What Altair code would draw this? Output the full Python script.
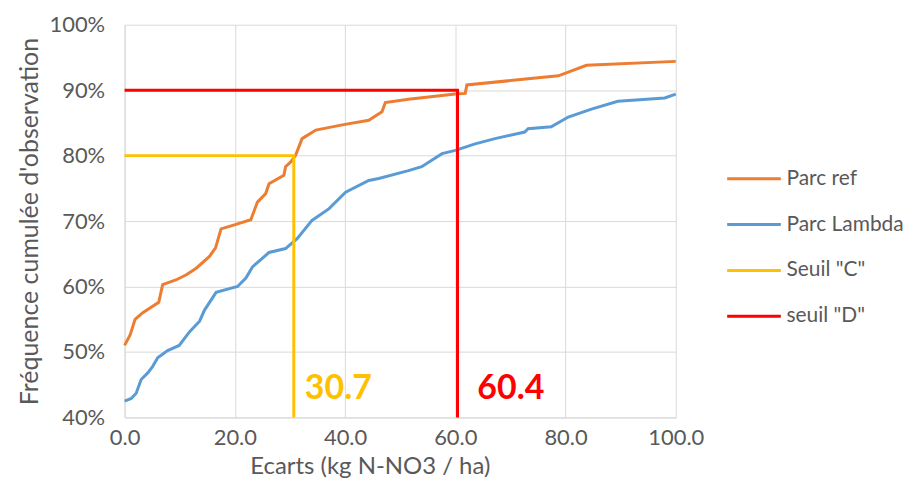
import altair as alt
import pandas as pd

# Parc ref (orange) cumulative curve
ref_x = [0, 1.0, 1.9, 3.3, 6.2, 6.9, 9.3, 11.2, 13.0, 15.4, 16.5, 17.5, 20.2, 22.9, 24.1, 25.6, 26.2,
         28.9, 29.2, 30.1, 31.0, 32.2, 34.7, 39.5, 44.3, 46.7, 47.3, 51.5, 60.0, 61.8, 62.1, 78.7, 83.8, 100.0]
ref_y = [51.0, 52.6, 55.0, 56.0, 57.6, 60.3, 61.0, 61.8, 62.8, 64.6, 65.9, 68.8, 69.5, 70.2, 72.9, 74.2, 75.7,
         77.0, 78.3, 79.0, 80.0, 82.6, 83.9, 84.7, 85.4, 86.7, 88.1, 88.6, 89.4, 89.5, 90.8, 92.2, 93.8, 94.4]

# Parc Lambda (blue) cumulative curve
lam_x = [0, 1.2, 2.1, 3.0, 4.2, 5.1, 6.0, 7.8, 9.9, 11.8, 13.6, 14.5, 16.6, 20.5, 22.0, 23.2, 26.2, 29.2,
         31.3, 34.0, 37.1, 40.1, 44.3, 46.1, 51.5, 53.9, 57.6, 60.0, 63.6, 67.2, 72.6, 73.2, 77.4, 80.5, 84.7,
         89.5, 98.0, 100.0]
lam_y = [42.5, 42.9, 43.7, 45.8, 46.8, 47.8, 49.1, 50.2, 51.0, 53.1, 54.7, 56.4, 59.1, 60.0, 61.3, 63.0, 65.2, 65.8,
         67.3, 70.1, 71.9, 74.4, 76.2, 76.5, 77.7, 78.3, 80.3, 80.8, 81.8, 82.6, 83.6, 84.1, 84.4, 85.9, 87.1,
         88.3, 88.8, 89.4]

# Thresholds
seuil_c_x = [0, 30.7, 30.7]
seuil_c_y = [80, 80, 40]
seuil_d_x = [0, 60.4, 60.4]
seuil_d_y = [90, 90, 40]

series_names = ["Parc ref", "Parc Lambda", 'Seuil "C"', 'seuil "D"']
series_colors = ["#ED7D31", "#5B9BD5", "#FFC000", "#FF0000"]

label_texts = ["30.7", "60.4"]
label_x = [32.7, 64.0]
label_y = [44.3, 44.3]
label_colors = ["#FFC000", "#FF0000"]

rows = []
for name, xs, ys in zip(series_names, [ref_x, lam_x, seuil_c_x, seuil_d_x], [ref_y, lam_y, seuil_c_y, seuil_d_y]):
    for i, (xv, yv) in enumerate(zip(xs, ys)):
        rows.append({"serie": name, "x": xv, "y": yv, "ord": i})
df = pd.DataFrame(rows)

lab_df = pd.DataFrame({"t": label_texts, "x": label_x, "y": label_y, "c": label_colors})

FONT = "Lato"
GRAY = "#595959"

x_enc = alt.X("x:Q", scale=alt.Scale(domain=[0, 100], nice=False),
              axis=alt.Axis(title="Ecarts (kg N-NO3 / ha)", values=[0, 20, 40, 60, 80, 100], format=".1f",
                            grid=True, gridColor="#D9D9D9", domainColor="#D9D9D9", ticks=False,
                            labelFlush=False, labelOverlap=False,
                            labelPadding=10, labelFontSize=22, labelColor=GRAY, labelFont=FONT,
                            titleFont=FONT, titleFontSize=24, titleColor=GRAY, titleFontWeight="normal",
                            titleX=246, titleY=49, titleBaseline="middle", titleAlign="center"))
y_enc = alt.Y("y:Q", scale=alt.Scale(domain=[40, 100], nice=False),
              axis=alt.Axis(title="Fréquence cumulée d'observation", values=[40, 50, 60, 70, 80, 90, 100],
                            labelExpr="datum.value + '%'", labelFlush=False, labelOverlap=False,
                            grid=True, gridColor="#D9D9D9", domainColor="#D9D9D9", ticks=False,
                            labelPadding=20, labelFontSize=22, labelColor=GRAY, labelFont=FONT,
                            titleFont=FONT, titleFontSize=25, titleColor=GRAY, titleFontWeight="normal",
                            titleX=-95, titleY=197, titleBaseline="middle", titleAlign="center"))

lines = alt.Chart(df).mark_line(strokeWidth=3).encode(
    x=x_enc, y=y_enc,
    color=alt.Color("serie:N", scale=alt.Scale(domain=series_names, range=series_colors),
                    sort=series_names,
                    legend=alt.Legend(title=None, orient="none", legendX=603, legendY=126,
                                      symbolType="stroke", symbolSize=2900, symbolStrokeWidth=3,
                                      rowPadding=7, labelOffset=4, labelFontSize=21,
                                      labelColor=GRAY, labelFont=FONT, labelLimit=300)),
    order="ord:Q",
    detail="serie:N",
)

labels = alt.Chart(lab_df).mark_text(fontSize=34, fontWeight="bold", font=FONT, align="left",
                                     baseline="middle").encode(
    x="x:Q", y="y:Q", text="t:N",
    color=alt.Color("c:N", scale=None),
)

chart = alt.layer(lines, labels).properties(
    width=553, height=394,
    autosize=alt.AutoSizeParams(type="none"),
    padding={"left": 117, "top": 16, "right": 230, "bottom": 60},
    background="white",
).configure_view(stroke=None)

chart.save("out.html", embed_options={"renderer": "svg", "actions": False})
